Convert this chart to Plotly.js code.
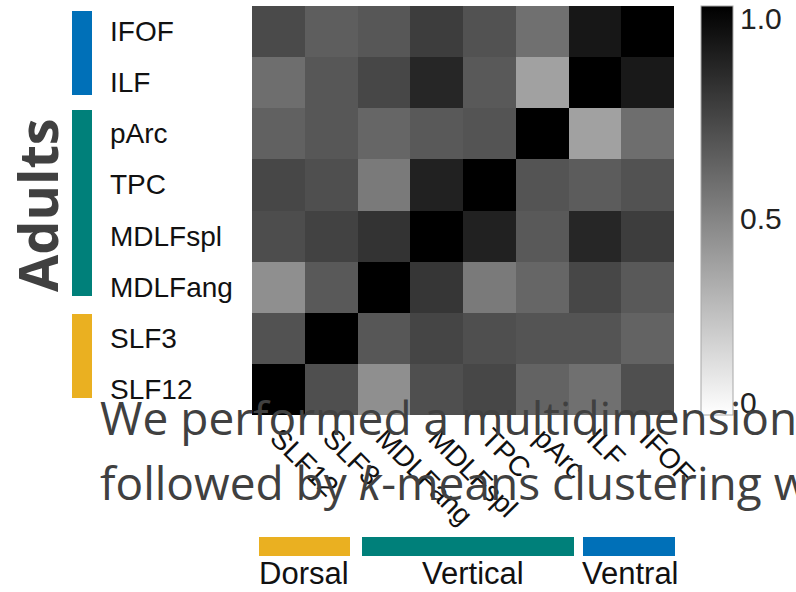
<!DOCTYPE html>
<html>
<head>
<meta charset="utf-8">
<script src="https://cdn.plot.ly/plotly-3.0.1.min.js"></script>
<style>
  html, body { margin: 0; padding: 0; background: #ffffff; overflow: hidden; }
  #chart { width: 796px; height: 592px; }
</style>
</head>
<body>
<div id="chart"></div>
<script>
// ---- data ----
const rowLabels = ['IFOF', 'ILF', 'pArc', 'TPC', 'MDLFspl', 'MDLFang', 'SLF3', 'SLF12'];
const colLabels = ['SLF12', 'SLF3', 'MDLFang', 'MDLFspl', 'TPC', 'pArc', 'ILF', 'IFOF'];

const rowIFOF    = [0.71, 0.63, 0.66, 0.76, 0.68, 0.56, 0.91, 1.00];
const rowILF     = [0.57, 0.66, 0.72, 0.85, 0.65, 0.37, 1.00, 0.90];
const rowpArc    = [0.62, 0.66, 0.60, 0.65, 0.67, 1.00, 0.37, 0.57];
const rowTPC     = [0.72, 0.69, 0.52, 0.87, 1.00, 0.67, 0.64, 0.68];
const rowMDLFspl = [0.70, 0.74, 0.80, 1.00, 0.87, 0.65, 0.85, 0.76];
const rowMDLFang = [0.44, 0.65, 1.00, 0.79, 0.52, 0.60, 0.72, 0.65];
const rowSLF3    = [0.68, 1.00, 0.66, 0.73, 0.69, 0.67, 0.67, 0.61];
const rowSLF12   = [1.00, 0.69, 0.44, 0.69, 0.72, 0.61, 0.56, 0.69];

const groupNames  = ['Dorsal', 'Vertical', 'Ventral'];
const groupColors = ['#EAB021', '#00807A', '#0070B8'];

const colorbarTickVals = [0.03, 0.48, 0.97];
const colorbarTickText = ['0', '0.5', '1.0'];

const paragraphLine1 = 'We performed a multidimensional';
const paragraphLine2 = 'followed by <i>k</i>-means clustering with';
const sideTitle = '<b>Adults</b>';

// ---- geometry helpers (layout only) ----
const W = 796, H = 592;
const plotL = 252, plotR = 674, plotT = 6, plotB = 415;
const px = v => (v - plotL) / (plotR - plotL);
const py = v => (plotB - v) / (plotB - plotT);

const z = [rowIFOF, rowILF, rowpArc, rowTPC, rowMDLFspl, rowMDLFang, rowSLF3, rowSLF12];

const trace = {
  type: 'heatmap',
  x: colLabels,
  y: rowLabels,
  z: z,
  zmin: 0, zmax: 1,
  colorscale: [[0, '#ffffff'], [1, '#000000']],
  xgap: 0, ygap: 0,
  hoverinfo: 'skip',
  colorbar: {
    thickness: 32, thicknessmode: 'pixels',
    len: 1, lenmode: 'fraction',
    x: px(701), xanchor: 'left', xpad: 0,
    y: 0.5, yanchor: 'middle', ypad: 0,
    outlinewidth: 1, outlinecolor: '#a8a8a8',
    borderwidth: 0,
    ticks: '',
    tickvals: colorbarTickVals,
    ticktext: colorbarTickText,
    tickfont: { family: 'Liberation Sans, Arial, sans-serif', size: 30, color: '#222222' }
  }
};

const font = 'Liberation Sans, Arial, sans-serif';
const annotations = [];

// y labels (left aligned)
rowLabels.forEach(r => {
  annotations.push({
    xref: 'paper', yref: 'y', x: px(108), y: r,
    xanchor: 'left', yanchor: 'middle', showarrow: false,
    text: r, font: { family: font, size: 28, color: '#111111' }
  });
});

// side title
annotations.push({
  xref: 'paper', yref: 'paper', x: px(37), y: py(205),
  xanchor: 'center', yanchor: 'middle', showarrow: false,
  textangle: -90, text: sideTitle,
  font: { family: 'Open Sans, sans-serif', size: 54, color: '#404040' }
});

// group labels under bottom bars
const groupLabelCenters = [304, 473, 630];
groupNames.forEach((g, i) => {
  annotations.push({
    xref: 'paper', yref: 'paper', x: px(groupLabelCenters[i]), y: py(573),
    xanchor: 'center', yanchor: 'middle', showarrow: false,
    text: g, font: { family: font, size: 31, color: '#111111' }
  });
});

// overlapping paragraph text
annotations.push({
  xref: 'paper', yref: 'paper', x: px(98), y: py(417),
  xanchor: 'left', yanchor: 'middle', showarrow: false,
  text: paragraphLine1, font: { family: 'Open Sans, sans-serif', size: 46, color: '#404040' }
});
annotations.push({
  xref: 'paper', yref: 'paper', x: px(98), y: py(482),
  xanchor: 'left', yanchor: 'middle', showarrow: false,
  text: paragraphLine2, font: { family: 'Open Sans, sans-serif', size: 46, color: '#404040' }
});

// group colour bars
const leftBarsY = [[11, 95], [110, 296], [314, 398]];   // ventral, vertical, dorsal (top to bottom)
const leftBarColors = [groupColors[2], groupColors[1], groupColors[0]];
const bottomBarsX = [[259, 350], [362, 574], [583, 675]];
const shapes = [];
leftBarsY.forEach((b, i) => {
  shapes.push({
    type: 'rect', xref: 'paper', yref: 'paper',
    x0: px(72), x1: px(92), y0: py(b[1]), y1: py(b[0]),
    fillcolor: leftBarColors[i], line: { width: 0 }, layer: 'above'
  });
});
bottomBarsX.forEach((b, i) => {
  shapes.push({
    type: 'rect', xref: 'paper', yref: 'paper',
    x0: px(b[0]), x1: px(b[1]), y0: py(556), y1: py(537),
    fillcolor: groupColors[i], line: { width: 0 }, layer: 'above'
  });
});

const layout = {
  width: W, height: H,
  margin: { l: plotL, r: W - plotR, t: plotT, b: H - plotB, pad: 0 },
  paper_bgcolor: '#ffffff', plot_bgcolor: '#ffffff',
  xaxis: {
    type: 'category', showgrid: false, zeroline: false, showline: false,
    ticks: '', tickangle: 45,
    tickfont: { family: font, size: 28, color: '#111111' }
  },
  yaxis: {
    type: 'category', autorange: 'reversed', showgrid: false, zeroline: false,
    showline: false, ticks: '', showticklabels: false
  },
  annotations: annotations,
  shapes: shapes,
  showlegend: false
};

Plotly.newPlot('chart', [trace], layout, { displayModeBar: false, staticPlot: true });
</script>
</body>
</html>
